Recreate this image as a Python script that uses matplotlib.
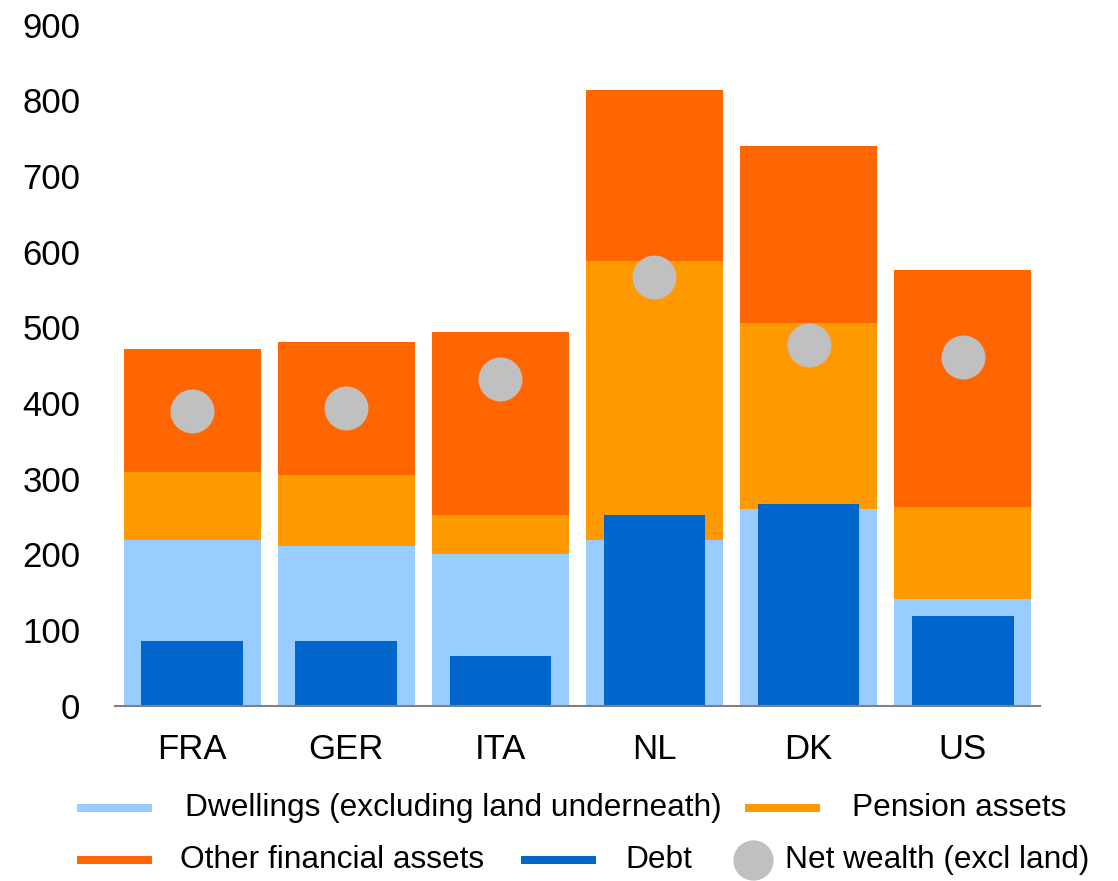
import numpy as np
import matplotlib.pyplot as plt
from matplotlib.lines import Line2D

plt.rcParams['font.family'] = ['Liberation Sans', 'DejaVu Sans']

countries = ["FRA", "GER", "ITA", "NL", "DK", "US"]
dwellings = [219, 211, 201, 219, 260, 141]
pension = [90, 94, 51, 369, 246, 122]
other_fin = [163, 175, 242, 226, 234, 313]
debt = [85, 85, 66, 252, 267, 118]
net_wealth = [390, 394, 432, 567, 477, 461]

C_DWELL = "#99ccff"
C_PENS = "#ff9900"
C_OTHER = "#ff6600"
C_DEBT = "#0066cc"
C_NET = "#c0c0c0"


def fig_px(fig, x, y):
    """pixel position (from top-left) to figure fraction"""
    w, h = fig.get_size_inches() * fig.dpi
    return x / w, 1 - y / h


def legend_entry(fig, kind, color, x0, y, text, tx):
    if kind == "line":
        a, b = fig_px(fig, x0, y)
        c, _ = fig_px(fig, x0 + 75, y)
        fig.add_artist(Line2D([a, c], [b, b], color=color, lw=5.8,
                              solid_capstyle="butt", transform=fig.transFigure))
    else:
        a, b = fig_px(fig, x0, y)
        fig.add_artist(Line2D([a], [b], marker="o", markersize=28, color=color,
                              ls="none", transform=fig.transFigure))
    tx_f, ty_f = fig_px(fig, tx, y)
    fig.text(tx_f, ty_f, text, fontsize=22.8, va="center", ha="left")


def main():
    fig = plt.figure(figsize=(11.18, 8.81), dpi=100)
    ax = fig.add_axes([0.103, 0.199, 0.827, 0.773])

    x = np.arange(len(countries))
    dw = np.array(dwellings)
    pe = np.array(pension)
    ot = np.array(other_fin)

    ax.bar(x, dw, width=0.89, color=C_DWELL, zorder=2)
    ax.bar(x, pe, width=0.89, bottom=dw, color=C_PENS, zorder=2)
    ax.bar(x, ot, width=0.89, bottom=dw + pe, color=C_OTHER, zorder=2)
    ax.bar(x, debt, width=0.66, color=C_DEBT, zorder=3)
    ax.scatter(x, net_wealth, s=1000, color=C_NET, zorder=4, linewidths=0)

    ax.set_xlim(-0.5, 5.5)
    ax.set_ylim(0, 900)
    ax.set_yticks(range(0, 901, 100))
    ax.set_xticks(x)
    ax.set_xticklabels(countries)
    ax.tick_params(axis="both", length=0, labelsize=25)
    ax.tick_params(axis="x", pad=20)
    ax.tick_params(axis="y", pad=25)
    for s in ["top", "right", "left"]:
        ax.spines[s].set_visible(False)
    ax.spines["bottom"].set_color("#808080")
    ax.spines["bottom"].set_linewidth(1.5)
    ax.spines["bottom"].set_zorder(5)

    # legend drawn by hand, two rows under the axes
    legend_entry(fig, "line", C_DWELL, 77, 808, "Dwellings (excluding land underneath)", 185)
    legend_entry(fig, "line", C_PENS, 745, 808, "Pension assets", 852)
    legend_entry(fig, "line", C_OTHER, 77, 860, "Other financial assets", 180)
    legend_entry(fig, "line", C_DEBT, 521, 860, "Debt", 625)
    legend_entry(fig, "dot", C_NET, 753, 860, "Net wealth (excl land)", 785)

    fig.savefig("out.png", dpi=100)


if __name__ == '__main__':
    main()
